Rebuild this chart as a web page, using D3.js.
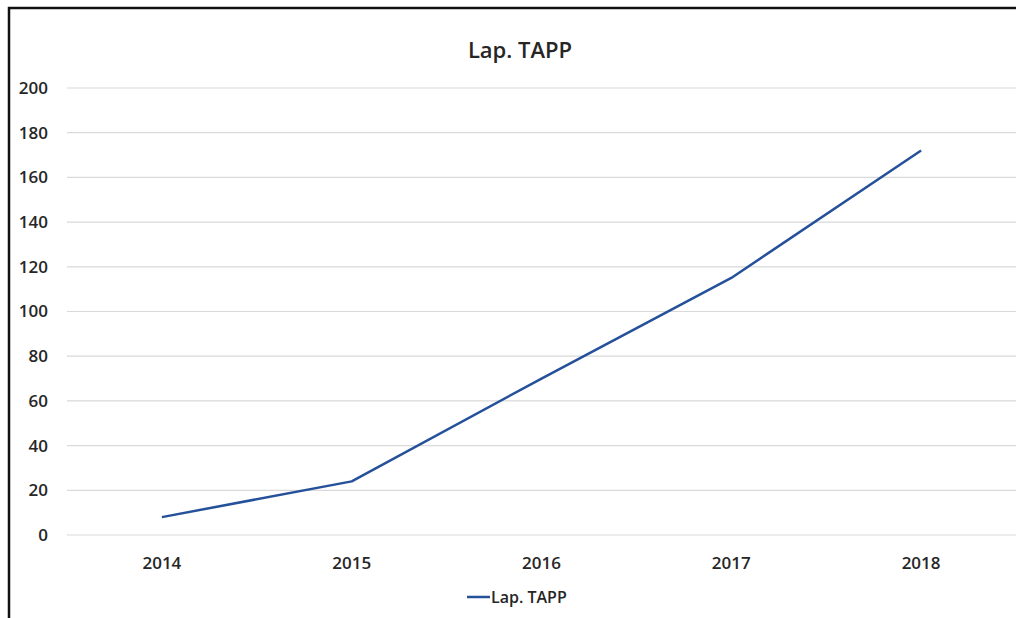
<!DOCTYPE html>
<html>
<head>
<meta charset="utf-8">
<script src="https://cdn.jsdelivr.net/npm/d3@7"></script>
<style>
  body { margin: 0; background: #fff; }
  svg { display: block; font-family: "Open Sans", "Liberation Sans", sans-serif; }
</style>
</head>
<body>
<svg class="chart"></svg>
<script>
const years = ["2014", "2015", "2016", "2017", "2018"];
const lapTapp = [8, 24, 70, 115, 172];
const yTicks = [0, 20, 40, 60, 80, 100, 120, 140, 160, 180, 200];
const seriesName = "Lap. TAPP";

const width = 1016;
const height = 618;
const margin = { top: 88, right: 0, bottom: 83, left: 67 };
const textColor = '#262626';

const svg = d3.select('.chart')
    .attr('width', width)
    .attr('height', height);

// frame (only left and top edges visible in the reference)
svg.append('path')
    .attr('d', `M9,618 V8 H1016`)
    .attr('fill', 'none')
    .attr('stroke', '#111')
    .attr('stroke-width', 2.5);

const x = d3.scaleBand()
    .domain(years)
    .range([margin.left, width - margin.right]);

const y = d3.scaleLinear()
    .domain([0, 200])
    .range([height - margin.bottom, margin.top]);

// gridlines
svg.append('g')
    .selectAll('line')
    .data(yTicks)
    .enter().append('line')
    .attr('x1', margin.left)
    .attr('x2', width - margin.right)
    .attr('y1', d => y(d))
    .attr('y2', d => y(d))
    .attr('stroke', '#d9d9d9')
    .attr('stroke-width', 1.2);

// y labels
svg.append('g')
    .selectAll('text')
    .data(yTicks)
    .enter().append('text')
    .attr('x', 48)
    .attr('y', d => y(d))
    .attr('dy', '.35em')
    .style('text-anchor', 'end')
    .style('font-size', '17px')
    .style('font-weight', 600)
    .style('fill', textColor)
    .text(d => d);

// x labels
svg.append('g')
    .selectAll('text')
    .data(years)
    .enter().append('text')
    .attr('x', d => x(d) + x.bandwidth() / 2)
    .attr('y', 563)
    .attr('dy', '.35em')
    .style('text-anchor', 'middle')
    .style('font-size', '17px')
    .style('font-weight', 600)
    .style('fill', textColor)
    .text(d => d);

// line
const line = d3.line()
    .x((d, i) => x(years[i]) + x.bandwidth() / 2)
    .y(d => y(d));

svg.append('path')
    .datum(lapTapp)
    .attr('d', line)
    .attr('fill', 'none')
    .attr('stroke', '#25509a')
    .attr('stroke-width', 2.5)
    .attr('stroke-linejoin', 'round');

// title
svg.append('text')
    .attr('x', 520)
    .attr('y', 50)
    .attr('dy', '.35em')
    .style('text-anchor', 'middle')
    .style('font-size', '22px')
    .style('font-weight', 600)
    .style('fill', textColor)
    .text(seriesName);

// legend
const legend = svg.append('g')
    .attr('transform', 'translate(467,597)');

legend.append('line')
    .attr('x1', 0)
    .attr('x2', 23)
    .attr('stroke', '#25509a')
    .attr('stroke-width', 2.5);

legend.append('text')
    .attr('x', 24)
    .attr('dy', '.35em')
    .style('font-size', '16px')
    .style('font-weight', 600)
    .style('fill', textColor)
    .text(seriesName);
</script>
</body>
</html>
